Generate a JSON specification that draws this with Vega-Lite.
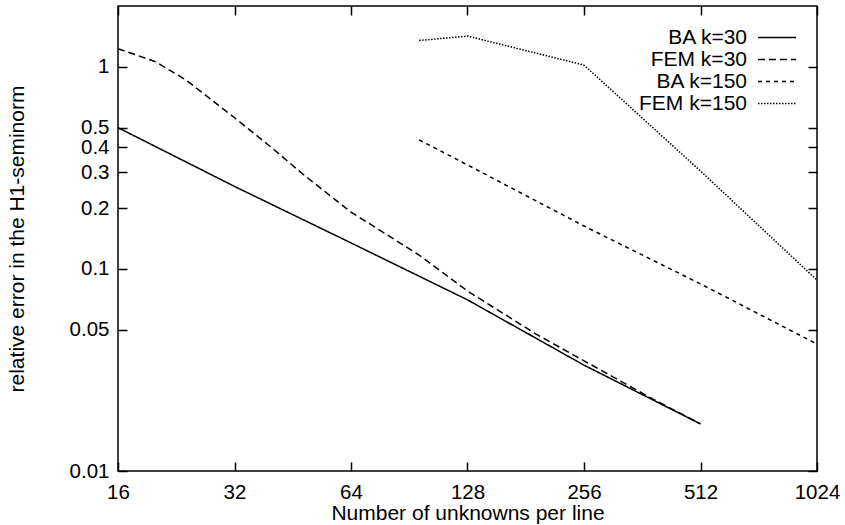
{
  "$schema": "https://vega.github.io/schema/vega-lite/v6.json",
  "autosize": {"type": "none"},
  "padding": {"left": 118, "top": 6, "right": 28, "bottom": 54},
  "width": 699,
  "height": 465,
  "background": "white",
  "config": {
    "font": "Liberation Sans",
    "view": {"stroke": "black", "strokeWidth": 1.5},
    "axis": {
      "grid": false,
      "domain": false,
      "tickColor": "black",
      "tickWidth": 1.5,
      "tickSize": 9,
      "offset": -9,
      "labelColor": "black",
      "labelFontSize": 20.5,
      "titleColor": "black",
      "titleFontSize": 21,
      "titleFontWeight": "normal",
      "labelFlush": false,
      "labelOverlap": false
    }
  },
  "data": {
    "values": [
      {"n": 16, "err": 0.5, "series": "BA k=30"},
      {"n": 32, "err": 0.256, "series": "BA k=30"},
      {"n": 64, "err": 0.1345, "series": "BA k=30"},
      {"n": 128, "err": 0.0703, "series": "BA k=30"},
      {"n": 256, "err": 0.0334, "series": "BA k=30"},
      {"n": 512, "err": 0.0171, "series": "BA k=30"},
      {"n": 16, "err": 1.23, "series": "FEM k=30"},
      {"n": 20, "err": 1.06, "series": "FEM k=30"},
      {"n": 24, "err": 0.86, "series": "FEM k=30"},
      {"n": 32, "err": 0.56, "series": "FEM k=30"},
      {"n": 40, "err": 0.397, "series": "FEM k=30"},
      {"n": 48, "err": 0.295, "series": "FEM k=30"},
      {"n": 64, "err": 0.191, "series": "FEM k=30"},
      {"n": 80, "err": 0.146, "series": "FEM k=30"},
      {"n": 96, "err": 0.117, "series": "FEM k=30"},
      {"n": 128, "err": 0.0778, "series": "FEM k=30"},
      {"n": 192, "err": 0.0477, "series": "FEM k=30"},
      {"n": 256, "err": 0.0351, "series": "FEM k=30"},
      {"n": 384, "err": 0.0228, "series": "FEM k=30"},
      {"n": 512, "err": 0.0171, "series": "FEM k=30"},
      {"n": 96, "err": 0.435, "series": "BA k=150"},
      {"n": 128, "err": 0.327, "series": "BA k=150"},
      {"n": 256, "err": 0.163, "series": "BA k=150"},
      {"n": 512, "err": 0.0843, "series": "BA k=150"},
      {"n": 1024, "err": 0.0425, "series": "BA k=150"},
      {"n": 96, "err": 1.35, "series": "FEM k=150"},
      {"n": 128, "err": 1.42, "series": "FEM k=150"},
      {"n": 256, "err": 1.02, "series": "FEM k=150"},
      {"n": 512, "err": 0.305, "series": "FEM k=150"},
      {"n": 1024, "err": 0.088, "series": "FEM k=150"}
    ]
  },
  "layer": [
    {
      "mark": {"type": "line", "color": "black", "strokeWidth": 1.5, "clip": true},
      "encoding": {
        "x": {
          "field": "n", "type": "quantitative",
          "scale": {"type": "log", "base": 2, "domain": [16, 1024], "nice": false},
          "axis": {
            "orient": "bottom",
            "values": [16, 32, 64, 128, 256, 512, 1024],
            "format": "d",
            "labelPadding": 11,
            "title": "Number of unknowns per line",
            "titlePadding": 0
          }
        },
        "y": {
          "field": "err", "type": "quantitative",
          "scale": {"type": "log", "domain": [0.01, 2], "nice": false},
          "axis": {
            "orient": "left",
            "values": [0.01, 0.05, 0.1, 0.2, 0.3, 0.4, 0.5, 1],
            "format": "~g",
            "labelPadding": 9,
            "title": "relative error in the H1-seminorm",
            "titlePadding": 42
          }
        },
        "strokeDash": {
          "field": "series", "type": "nominal",
          "scale": {
            "domain": ["BA k=30", "FEM k=30", "BA k=150", "FEM k=150"],
            "range": [[1, 0], [7, 4], [4, 4], [1.5, 1.5]]
          },
          "legend": {
            "title": null,
            "orient": "none",
            "legendX": 648.5,
            "legendY": 21,
            "padding": 0,
            "symbolType": "M-2,0H2",
            "symbolSize": 361,
            "symbolStrokeWidth": 1.5,
            "symbolStrokeColor": "black",
            "symbolFillColor": "transparent",
            "labelFontSize": 21,
            "labelColor": "black",
            "labelAlign": "right",
            "labelOffset": -40.5,
            "labelLimit": 300,
            "rowPadding": 0
          }
        }
      }
    },
    {
      "mark": {"type": "point", "opacity": 0},
      "encoding": {
        "x": {
          "field": "n", "type": "quantitative",
          "axis": {
            "orient": "top",
            "values": [16, 32, 64, 128, 256, 512, 1024],
            "labels": false,
            "title": null
          }
        },
        "y": {
          "field": "err", "type": "quantitative",
          "axis": {
            "orient": "right",
            "values": [0.01, 0.05, 0.1, 0.2, 0.3, 0.4, 0.5, 1],
            "labels": false,
            "title": null
          }
        }
      }
    }
  ],
  "resolve": {"axis": {"x": "independent", "y": "independent"}}
}
